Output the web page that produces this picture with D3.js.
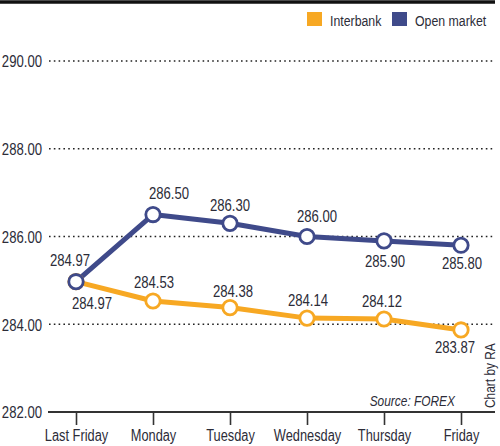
<!DOCTYPE html>
<html>
<head>
<meta charset="utf-8">
<script src="https://cdn.jsdelivr.net/npm/d3@7"></script>
<style>
  body { margin: 0; background: #fff; }
  svg text { font-family: "Liberation Sans", Arial, sans-serif; fill: #2c2c38; }
</style>
</head>
<body>
<div id="chart"></div>
<script>
// Data
const days = ["Last Friday", "Monday", "Tuesday", "Wednesday", "Thursday", "Friday"];
const interbank = [284.97, 284.53, 284.38, 284.14, 284.12, 283.87];
const openMarket = [284.97, 286.5, 286.3, 286.0, 285.9, 285.8];
const yTicks = [282, 284, 286, 288, 290];

const colors = { interbank: "#f7a823", open: "#3f4a8a" };

// label nudges [dx, dy] relative to point
const openLabelPos = [[-6, -16], [16, -16], [0, -12], [10, -15], [1, 26], [1, 24]];
const interLabelPos = [[16, 27], [1, -13], [3, -11], [1, -12], [-2, -12], [-6, 23]];

const dimensions = {
  width: 500,
  height: 446,
  margin: { top: 61, right: 39, bottom: 34, left: 49 },
};

// squeeze text horizontally to mimic a narrow face
const condense = (sel, k = 0.82) =>
  sel.each(function () {
    const w = this.getComputedTextLength();
    d3.select(this).attr("textLength", w * k).attr("lengthAdjust", "spacingAndGlyphs");
  });

const svg = d3
  .select("#chart")
  .append("svg")
  .attr("width", dimensions.width)
  .attr("height", dimensions.height);

// Scales
const xScale = d3.scalePoint().domain(days).range([76, 461]);
const yScale = d3
  .scaleLinear()
  .domain([282, 290])
  .range([dimensions.height - dimensions.margin.bottom, dimensions.margin.top]);

// Top rule
svg.append("line")
  .attr("x1", 0).attr("x2", 495)
  .attr("y1", 2).attr("y2", 2)
  .attr("stroke", "#111").attr("stroke-width", 3.5);

// Legend
const legend = svg.append("g");
[["Interbank", colors.interbank, 307], ["Open market", colors.open, 392]].forEach(([name, c, x]) => {
  legend.append("rect").attr("x", x).attr("y", 12).attr("width", 15).attr("height", 14).attr("fill", c);
  legend.append("text").attr("x", x + 23).attr("y", 26).attr("font-size", 14).text(name).call(condense, 0.88);
});

// Y grid + labels
const yAxis = d3.axisLeft(yScale).tickValues(yTicks).tickSize(0).tickFormat(d3.format(".2f"));
const yAxisG = svg.append("g").attr("transform", "translate(42,0)").call(yAxis);
yAxisG.select(".domain").remove();
yAxisG.selectAll(".tick text")
  .attr("x", 0).attr("dy", "0.36em").attr("font-size", 16)
  .call(condense, 0.82);

svg.append("g")
  .selectAll("line")
  .data(yTicks.filter((d) => d !== 282))
  .join("line")
  .attr("x1", 49).attr("x2", 495)
  .attr("y1", (d) => yScale(d)).attr("y2", (d) => yScale(d))
  .attr("stroke", "#222").attr("stroke-width", 1.6)
  .attr("stroke-dasharray", "1.6,3.2");

// X axis
const xAxis = d3.axisBottom(xScale).tickSize(13).tickSizeOuter(0);
const xAxisG = svg.append("g")
  .attr("transform", `translate(0, ${yScale(282)})`)
  .call(xAxis);
xAxisG.select(".domain").attr("d", "M48,0H495").attr("stroke", "#333").attr("stroke-width", 2.2);
xAxisG.selectAll(".tick line").attr("stroke", "#333").attr("stroke-width", 1.6);
xAxisG.selectAll(".tick text")
  .attr("y", 18).attr("font-size", 16)
  .call(condense, 0.8);

// Source + credit
svg.append("text")
  .attr("x", 455).attr("y", 406)
  .attr("text-anchor", "end")
  .attr("font-size", 14).attr("font-style", "italic")
  .text("Source: FOREX")
  .call(condense, 0.85);
svg.append("text")
  .attr("transform", "translate(495, 408) rotate(-90)")
  .attr("font-size", 14)
  .text("Chart by RA")
  .call(condense, 0.85);

// Lines
const line = (values) =>
  d3.line()
    .x((d, i) => xScale(days[i]))
    .y((d) => yScale(d))(values);

const series = [
  { values: interbank, color: colors.interbank, pos: interLabelPos },
  { values: openMarket, color: colors.open, pos: openLabelPos },
];

series.forEach((s) => {
  svg.append("path")
    .attr("d", line(s.values))
    .attr("fill", "none")
    .attr("stroke", s.color)
    .attr("stroke-width", 5)
    .attr("stroke-linejoin", "round");
});

series.forEach((s) => {
  const g = svg.append("g");
  g.selectAll("circle")
    .data(s.values)
    .join("circle")
    .attr("cx", (d, i) => xScale(days[i]))
    .attr("cy", (d) => yScale(d))
    .attr("r", 7.2)
    .attr("fill", "#fff")
    .attr("stroke", s.color)
    .attr("stroke-width", 2.8);
  g.selectAll("text")
    .data(s.values)
    .join("text")
    .attr("x", (d, i) => xScale(days[i]) + s.pos[i][0])
    .attr("y", (d, i) => yScale(d) + s.pos[i][1])
    .attr("text-anchor", "middle")
    .attr("font-size", 16)
    .text((d) => d3.format(".2f")(d))
    .call(condense, 0.82);
});
</script>
</body>
</html>
